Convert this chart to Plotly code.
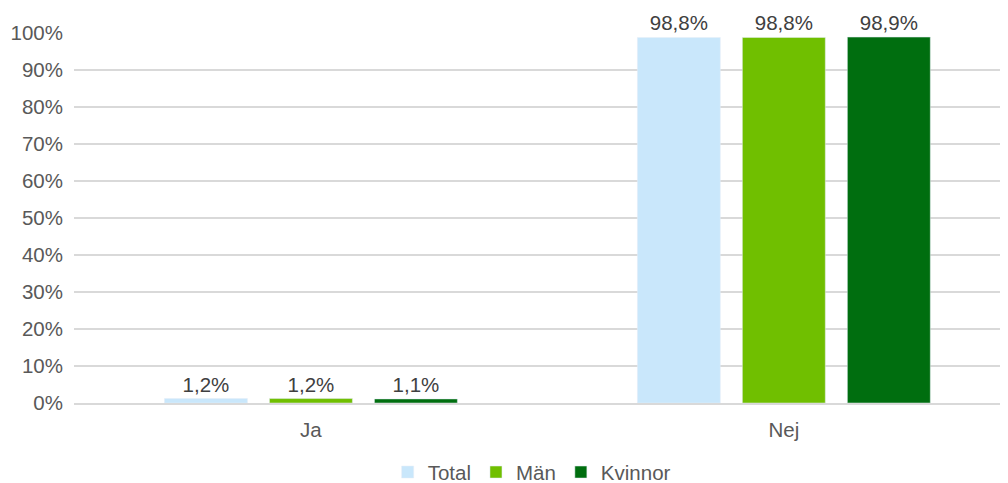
import plotly.graph_objects as go

categories = ["Ja", "Nej"]
series_names = ["Total", "Män", "Kvinnor"]
total = [1.2, 98.8]
man = [1.2, 98.8]
kvinnor = [1.1, 98.9]
colors = ["#C9E7FB", "#70BF00", "#006E0F"]

def fmt(v):
    return f"{v:.1f}".replace(".", ",") + "%"

FS = 20.5

fig = go.Figure()
for name, vals, col in zip(series_names, [total, man, kvinnor], colors):
    fig.add_trace(go.Bar(
        x=categories, y=vals, name=name, marker_color=col,
        text=[fmt(v) for v in vals], textposition="outside",
        textfont=dict(size=FS, color="#404040"),
        cliponaxis=False, constraintext="none",
    ))

# page body has an 8px margin, so the figure is sized/offset to compensate
fig.update_layout(
    width=1000, height=475,
    margin=dict(l=66, r=0, t=25, b=80, autoexpand=False),
    plot_bgcolor="white", paper_bgcolor="white",
    font=dict(family="Liberation Sans, Arial, sans-serif", size=FS, color="#595959"),
    barmode="group", bargap=0.334, bargroupgap=0.21,
    showlegend=True,
    legend=dict(orientation="h", x=0.49, xanchor="center", y=-0.133, yanchor="top",
                font=dict(size=FS, color="#595959"), itemwidth=30, traceorder="normal"),
    xaxis=dict(range=[-0.501, 1.474], showgrid=False, showline=True,
               linecolor="#D9D9D9", linewidth=1.5, ticks="",
               tickfont=dict(size=FS, color="#595959"), ticklabelstandoff=8),
    yaxis=dict(range=[0, 100], dtick=10, ticksuffix="%", showgrid=True,
               gridcolor="#D9D9D9", gridwidth=1.5, zeroline=False,
               tickfont=dict(size=FS, color="#595959"), ticklabelstandoff=10),
)
fig.write_html("out.html")
